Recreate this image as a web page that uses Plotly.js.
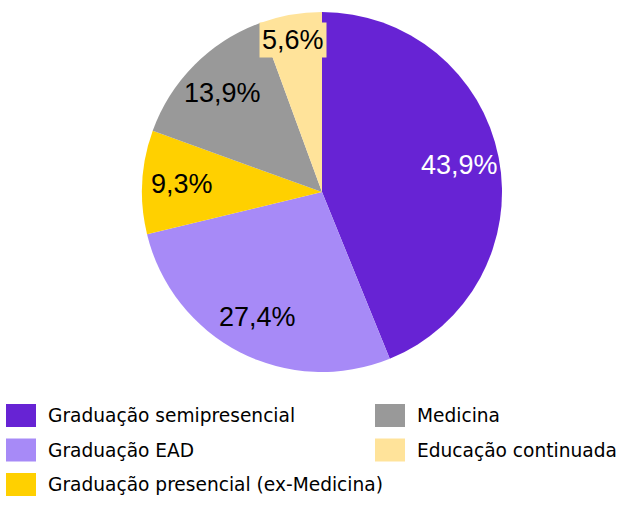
<!DOCTYPE html>
<html>
<head>
<meta charset="utf-8">
<script src="https://cdn.plot.ly/plotly-3.0.1.min.js"></script>
<style>
  html, body { margin: 0; padding: 0; background: #fff; }
  #chart { width: 628px; height: 505px; }
</style>
</head>
<body>
<div id="chart"></div>
<script>
// Receita por segmento (%)
const segments = [
    'Graduação semipresencial',
    'Graduação EAD',
    'Graduação presencial (ex-Medicina)',
    'Medicina',
    'Educação continuada'
];
const shares = [43.9, 27.4, 9.3, 13.9, 5.6];
const colors = ['#6723d4', '#a78af7', '#ffd000', '#999999', '#ffe39a'];
const labelColors = ['#ffffff', '#000000', '#000000', '#000000', '#000000'];

const W = 628, H = 505;
const px = x => x / W;
const py = y => 1 - y / H;
const FONT = 'Liberation Sans, Arial, sans-serif';
const LEGEND_FONT = 'DejaVu Sans, sans-serif';

// pie: center (322,192), radius 180
const cx = 322, cy = 192, R = 180;

const trace = {
    type: 'pie',
    labels: segments,
    values: shares,
    sort: false,
    direction: 'clockwise',
    rotation: 0,
    marker: { colors: colors, line: { width: 0 } },
    textinfo: 'none',
    hoverinfo: 'label+percent',
    showlegend: false,
    domain: { x: [px(cx - R), px(cx + R)], y: [py(cy + R), py(cy - R)] }
};

const shapes = [];
const annotations = [];

// rótulos de dados, colocados no ângulo médio de cada fatia
const total = shares.reduce((a, b) => a + b, 0);
let acc = 0;
shares.forEach((v, i) => {
    const mid = (acc + v / 2) / total * 2 * Math.PI;
    acc += v;
    const small = v / total < 0.08;
    const k = small ? 0.86 : 0.78;
    const lx = cx + k * R * Math.sin(mid) - (small ? 2 : 0);
    const ly = cy - k * R * Math.cos(mid);
    annotations.push({
        xref: 'paper', yref: 'paper',
        x: px(lx), y: py(ly),
        xanchor: 'center', yanchor: 'middle',
        text: v.toFixed(1).replace('.', ',') + '%',
        showarrow: false,
        bgcolor: small ? colors[i] : 'rgba(0,0,0,0)',
        borderpad: small ? 2 : 1,
        font: { family: FONT, size: 27, color: labelColors[i] }
    });
});

// legenda manual em duas colunas (3 linhas)
segments.forEach((name, i) => {
    const col = Math.floor(i / 3);
    const row = i % 3;
    const x0 = 6 + col * 369;
    const yc = 415.5 + row * 34.5;
    shapes.push({
        type: 'rect', xref: 'paper', yref: 'paper',
        x0: px(x0), x1: px(x0 + 30),
        y0: py(yc + 11.5), y1: py(yc - 11.5),
        fillcolor: colors[i], line: { width: 0 }
    });
    annotations.push({
        xref: 'paper', yref: 'paper',
        x: px(x0 + 40), y: py(yc),
        xanchor: 'left', yanchor: 'middle',
        text: name, showarrow: false,
        font: { family: LEGEND_FONT, size: 18.6, color: '#000' }
    });
});

const layout = {
    width: W,
    height: H,
    margin: { l: 0, r: 0, t: 0, b: 0 },
    paper_bgcolor: '#ffffff',
    showlegend: false,
    shapes: shapes,
    annotations: annotations
};

Plotly.newPlot('chart', [trace], layout, { displayModeBar: false, staticPlot: true });
</script>
</body>
</html>
